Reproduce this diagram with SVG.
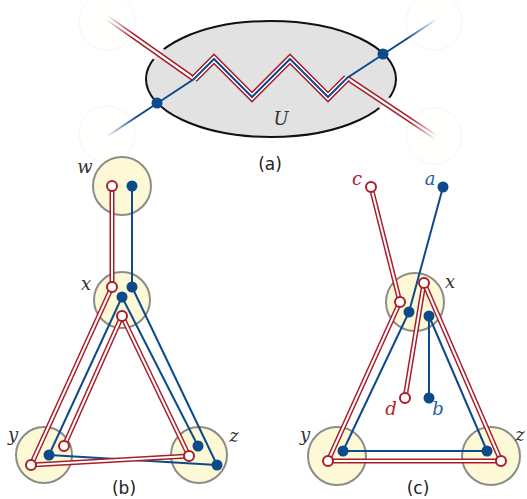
<svg xmlns="http://www.w3.org/2000/svg" xmlns:xlink="http://www.w3.org/1999/xlink" width="527" height="499" viewBox="0 0 527 499">
<style>
.ghost{fill:#fffffd;stroke:#f5f5f3;stroke-width:1}
.node{fill:#fdf8d6;stroke:#8c8c89;stroke-width:2}
.ro{stroke:#a81d2a;stroke-width:5;fill:none}
.ri{stroke:#ffffff;stroke-width:2;fill:none}
.bl{stroke:#0c4a8c;stroke-width:2;fill:none}
.op{fill:#ffffff;stroke:#a81d2a;stroke-width:2}
.bd{fill:#0c4a8c}
.lab{font-family:"DejaVu Serif","Liberation Serif",serif;font-style:italic;font-size:18px;fill:#333333;text-anchor:middle}
.cap{font-family:"DejaVu Sans","Liberation Sans",sans-serif;font-size:17px;fill:#222222;text-anchor:middle}
.red{fill:#b3202c}
.blue{fill:#1d5ea8}
</style>
<defs>
<linearGradient id="gr" gradientUnits="userSpaceOnUse" x1="106" y1="17" x2="437" y2="138">
<stop offset="0" stop-color="#a81d2a" stop-opacity="0"/>
<stop offset="0.09" stop-color="#a81d2a" stop-opacity="1"/>
<stop offset="0.91" stop-color="#a81d2a" stop-opacity="1"/>
<stop offset="1" stop-color="#a81d2a" stop-opacity="0"/>
</linearGradient>
<linearGradient id="gb" gradientUnits="userSpaceOnUse" x1="106" y1="137" x2="437" y2="19">
<stop offset="0" stop-color="#0c4a8c" stop-opacity="0"/>
<stop offset="0.1" stop-color="#0c4a8c" stop-opacity="1"/>
<stop offset="0.9" stop-color="#0c4a8c" stop-opacity="1"/>
<stop offset="1" stop-color="#0c4a8c" stop-opacity="0"/>
</linearGradient>
<mask id="gap" maskUnits="userSpaceOnUse" x="0" y="0" width="527" height="499">
<rect x="0" y="0" width="527" height="499" fill="#fff"/>
<path d="M106,17 L194,79 M347,78 L437,138" stroke="#000" stroke-width="14" fill="none"/>
</mask>
</defs>

<g id="ghosts">
<circle class="ghost" cx="107" cy="22" r="28"/>
<circle class="ghost" cx="434" cy="22" r="28"/>
<circle class="ghost" cx="107" cy="134" r="28"/>
<circle class="ghost" cx="434" cy="136" r="28"/>
</g>

<g id="panel-a">
<g id="U">
<ellipse cx="271" cy="79" rx="125" ry="58" fill="#e1e2e1"/>
<ellipse cx="271" cy="79" rx="125" ry="58" fill="none" stroke="#111" stroke-width="2" mask="url(#gap)"/>
<text class="lab" x="281" y="125">U</text>
</g>
<g id="connectors-a">
<path d="M106,17 L194,79 M347,78 L437,138" stroke="url(#gr)" stroke-width="5.5" fill="none"/>
<path d="M106,17 L194,79 M347,78 L437,138" stroke="#fff" stroke-width="2.2" fill="none"/>
<path d="M194,79 L214,59 L252,97 L290,59 L328,97 L347,78" stroke="#a81d2a" stroke-width="8" fill="none" stroke-linejoin="miter"/>
<path d="M194,79 L214,59 L252,97 L290,59 L328,97 L347,78" stroke="#fff" stroke-width="5" fill="none"/>
<path d="M106,137 L194,79 L214,59 L252,97 L290,59 L328,97 L347,78 L437,19" stroke="url(#gb)" stroke-width="2" fill="none"/>
</g>
<circle class="bd" cx="157" cy="103" r="5.5"/>
<circle class="bd" cx="383" cy="54" r="5.5"/>
<text class="cap" x="270" y="170">(a)</text>
</g>

<g id="panel-b">
<g id="b-w"><circle class="node" cx="122" cy="186" r="29"/><text class="lab" x="85" y="173">w</text></g>
<g id="b-x"><circle class="node" cx="122" cy="300" r="28"/><text class="lab" x="86" y="290">x</text></g>
<g id="b-y"><circle class="node" cx="44" cy="455" r="28"/><text class="lab" x="13" y="441">y</text></g>
<g id="b-z"><circle class="node" cx="199" cy="455" r="28"/><text class="lab" x="234" y="442">z</text></g>
<g id="connectors-b">
<path class="ro" d="M112,186 L112,287"/><path class="ri" d="M112,186 L112,287"/>
<path class="ro" d="M112,287 L31,465"/><path class="ri" d="M112,287 L31,465"/>
<path class="ro" d="M122,316 L64,446"/><path class="ri" d="M122,316 L64,446"/>
<path class="ro" d="M122,316 L189,456"/><path class="ri" d="M122,316 L189,456"/>
<path class="bl" d="M132,186 L132,287"/>
<path class="bl" d="M122,297 L49,455"/>
<path class="bl" d="M122,297 L198,446"/>
<path class="bl" d="M132,287 L217,465"/>
<path class="bl" d="M49,455 L217,465"/>
<path class="ro" d="M31,465 L189,456"/><path class="ri" d="M31,465 L189,456"/>
</g>
<g id="b-ends">
<circle class="op" cx="112" cy="186" r="5"/><circle class="bd" cx="132" cy="186" r="5.5"/>
<circle class="op" cx="112" cy="287" r="5"/><circle class="bd" cx="132" cy="287" r="5.5"/>
<circle class="bd" cx="122" cy="297" r="5.5"/><circle class="op" cx="122" cy="316" r="5"/>
<circle class="bd" cx="49" cy="455" r="5.5"/><circle class="op" cx="64" cy="446" r="5"/><circle class="op" cx="31" cy="465" r="5"/>
<circle class="bd" cx="198" cy="446" r="5.5"/><circle class="op" cx="189" cy="456" r="5"/><circle class="bd" cx="217" cy="465" r="5.5"/>
</g>
<text class="cap" x="124" y="494">(b)</text>
</g>

<g id="panel-c">
<g id="c-x"><circle class="node" cx="415" cy="302" r="29"/><text class="lab" x="450" y="288">x</text></g>
<g id="c-y"><circle class="node" cx="337" cy="456" r="29"/><text class="lab" x="305" y="441">y</text></g>
<g id="c-z"><circle class="node" cx="491" cy="456" r="29"/><text class="lab" x="520" y="441">z</text></g>
<g id="connectors-c">
<path class="ro" d="M371,187 L400,302"/><path class="ri" d="M371,187 L400,302"/>
<path class="ro" d="M424,283 L405,398"/><path class="ri" d="M424,283 L405,398"/>
<path class="ro" d="M400,302 L328,461"/><path class="ri" d="M400,302 L328,461"/>
<path class="ro" d="M424,283 L501,461"/><path class="ri" d="M424,283 L501,461"/>
<path class="ro" d="M328,461 L501,461"/><path class="ri" d="M328,461 L501,461"/>
<path class="bl" d="M443,187 L409,312"/>
<path class="bl" d="M429,316 L429,398"/>
<path class="bl" d="M409,312 L343,451"/>
<path class="bl" d="M429,316 L487,451"/>
<path class="bl" d="M343,451 L487,451"/>
</g>
<g id="c-ends">
<circle class="op" cx="371" cy="187" r="5"/><circle class="bd" cx="443" cy="187" r="5.5"/>
<circle class="op" cx="400" cy="302" r="5"/><circle class="bd" cx="409" cy="312" r="5.5"/>
<circle class="op" cx="424" cy="283" r="5"/><circle class="bd" cx="429" cy="316" r="5.5"/>
<circle class="op" cx="405" cy="398" r="5"/><circle class="bd" cx="429" cy="398" r="5.5"/>
<circle class="bd" cx="343" cy="451" r="5.5"/><circle class="op" cx="328" cy="461" r="5"/>
<circle class="bd" cx="487" cy="451" r="5.5"/><circle class="op" cx="501" cy="461" r="5"/>
</g>
<text class="lab red" x="357" y="185">c</text>
<text class="lab blue" x="430" y="185">a</text>
<text class="lab red" x="391" y="415">d</text>
<text class="lab blue" x="438" y="415">b</text>
<text class="cap" x="418" y="494">(c)</text>
</g>
</svg>
